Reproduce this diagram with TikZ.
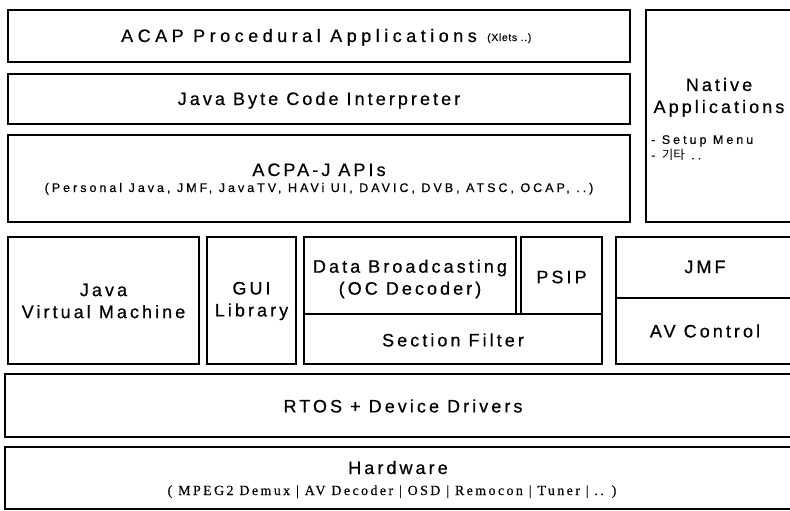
\documentclass[tikz,border=0pt]{standalone}
\usepackage{fontspec}
\setmainfont{Liberation Sans}
\newfontfamily\bigsp{Liberation Sans}[LetterSpace=17,FakeBold=0.6]
\newfontfamily\bigwide{Liberation Sans}[LetterSpace=25,FakeBold=0.6]
\newfontfamily\smallsp{Liberation Sans}[LetterSpace=24,FakeBold=0.4]
\newfontfamily\tinysp{Liberation Sans}[LetterSpace=6,FakeBold=0.3]
\newfontfamily\serifsp{Liberation Serif}[LetterSpace=17,FakeBold=0.3]
\newfontfamily\krfont{Noto Sans CJK KR}
\begin{document}
\begin{tikzpicture}[x=1pt,y=-1pt,
  box/.style={draw, line width=2pt, inner sep=0pt},
  big/.style={font=\bigsp\fontsize{18}{22}\selectfont, align=center, inner sep=0pt},
  small/.style={font=\smallsp\fontsize{12.5}{14}\selectfont, align=center, inner sep=0pt},
  hw/.style={font=\serifsp\fontsize{14}{16}\selectfont, inner sep=0pt}]
\useasboundingbox (0,0) rectangle (790,511);
\clip (0,0) rectangle (790,511);
% top layer
\node[box, minimum width=622pt, minimum height=52pt] (acap) at (319,36) {};
\node[big, font=\bigwide\fontsize{18}{22}\selectfont, anchor=base] (acapt) at (299,42) {ACAP Procedural Applications};
\node[anchor=base west, inner sep=0pt, font=\tinysp\fontsize{10.5}{12}\selectfont] (xlets) at (487,41) {(Xlets ..)};
\node[box, minimum width=622pt, minimum height=50pt] (jbc) at (319,99) {};
\node[big, anchor=base] (jbct) at (319,105) {Java Byte Code Interpreter};
\node[box, minimum width=622pt, minimum height=87pt] (acpa) at (319,178.5) {};
\node[big, anchor=base] (acpat) at (319,176) {ACPA-J APIs};
\node[small, anchor=base] (acpas) at (319,192) {(Personal Java, JMF, JavaTV, HAVi UI, DAVIC, DVB, ATSC, OCAP, ..)};
\node[box, minimum width=147pt, minimum height=212pt] (native) at (719.5,116) {};
\node[big, anchor=base] (nativet) at (719,113) {Native\\Applications};
\node[small, anchor=north west, align=left, font=\smallsp\fontsize{12.5}{15.5}\selectfont] (nativel) at (651,135) {-\ Setup Menu\\-\ {\krfont\fontsize{12.5}{15.5}\selectfont 기타} ..};
% middle layer
\node[box, minimum width=191pt, minimum height=127pt] (jvm) at (103.5,300.5) {};
\node[big] (jvmt) at (103.5,301) {Java\\Virtual Machine};
\node[box, minimum width=89pt, minimum height=127pt] (gui) at (251.5,300.5) {};
\node[big] (guit) at (251.5,301) {GUI\\Library};
\node[box, minimum width=212pt, minimum height=77pt] (dbc) at (410,275.5) {};
\node[big] (dbct) at (410,279) {Data Broadcasting\\(OC Decoder)};
\node[box, minimum width=81pt, minimum height=77pt] (psip) at (561.5,275.5) {};
\node[big] (psipt) at (561.5,277) {PSIP};
\node[box, minimum width=298pt, minimum height=50pt] (sf) at (453,339) {};
\node[big] (sft) at (453,340) {Section Filter};
\node[box, minimum width=178pt, minimum height=61pt] (jmf) at (705,267.5) {};
\node[big] (jmft) at (705,267) {JMF};
\node[box, minimum width=178pt, minimum height=66pt] (avc) at (705,331) {};
\node[big] (avct) at (705,331) {AV Control};
% bottom layers
\node[box, minimum width=795pt, minimum height=63pt] (rtos) at (402.5,405.5) {};
\node[big] (rtost) at (403,406) {RTOS + Device Drivers};
\node[box, minimum width=795pt, minimum height=62pt] (hw) at (402.5,478) {};
\node[big, anchor=base] (hwt) at (398,474) {Hardware};
\node[hw, anchor=base] (hws) at (392,495) {( MPEG2 Demux | AV Decoder | OSD | Remocon | Tuner | .. )};
\end{tikzpicture}
\end{document}
